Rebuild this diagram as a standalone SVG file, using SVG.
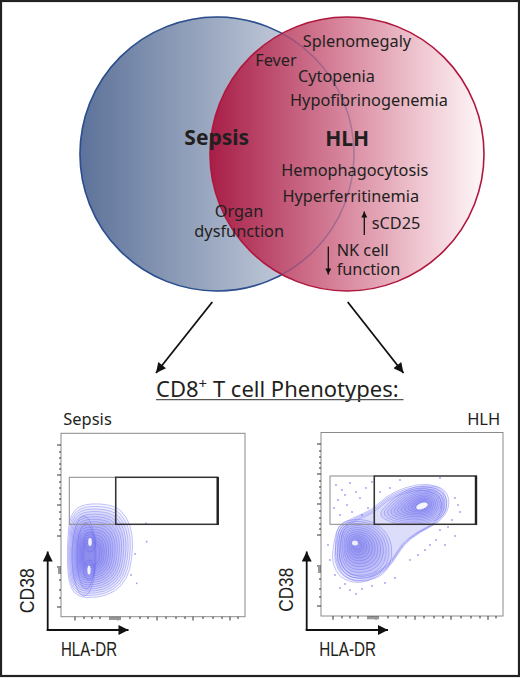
<svg xmlns="http://www.w3.org/2000/svg" xmlns:xlink="http://www.w3.org/1999/xlink" width="520" height="678" viewBox="0 0 520 678">
<style>
.t{font-family:"Noto Sans","Open Sans",sans-serif;font-size:16.3px;fill:#231f20}
.b{font-family:"Noto Sans","Open Sans",sans-serif;font-size:21px;font-weight:bold;fill:#231f20}
.ax{font-family:"Liberation Sans",Arial,sans-serif;font-size:19.5px;fill:#231f20}
.lab{font-family:"Noto Sans","Open Sans",sans-serif;font-size:16.5px;fill:#231f20}
.frame{fill:none;stroke:#8a8a8a;stroke-width:1}
.gl{fill:none;stroke:#8a8a8a;stroke-width:1}
.gr{fill:none;stroke:#333;stroke-width:1.5}
.tick{stroke:#333;stroke-width:1;fill:none}
.c{fill:#5858f0;fill-opacity:0.05;stroke:#6464f2;stroke-opacity:0.55;stroke-width:0.7}
.dot{fill:#7070f0;fill-opacity:0.7}
.arr{stroke:#111;stroke-width:1.8;fill:none}
</style>
<defs>
<linearGradient id="gb" x1="82" y1="0" x2="352" y2="0" gradientUnits="userSpaceOnUse">
<stop offset="0" stop-color="#5e739a"/>
<stop offset="0.55" stop-color="#a5b1c7"/>
<stop offset="1" stop-color="#e2e6ee"/>
</linearGradient>
<linearGradient id="gr" x1="212" y1="0" x2="482" y2="0" gradientUnits="userSpaceOnUse">
<stop offset="0" stop-color="#a9153f"/>
<stop offset="0.45" stop-color="#d27690"/>
<stop offset="0.8" stop-color="#f0c9d3"/>
<stop offset="1" stop-color="#fdf5f7"/>
</linearGradient>
<marker id="ah" viewBox="0 0 10 10" refX="10" refY="5" markerWidth="11" markerHeight="10" markerUnits="userSpaceOnUse" orient="auto">
<path d="M0,0 L10,5 L0,10 Z" fill="#111"/>
</marker>
<marker id="ahs" viewBox="0 0 10 10" refX="10" refY="5" markerWidth="7" markerHeight="6" markerUnits="userSpaceOnUse" orient="auto">
<path d="M0,0 L10,5 L0,10 Z" fill="#111"/>
</marker>
<path id="sb" d="M11,-51 Q26,-50 32,-44 Q38,-38 41,-29 Q44,-20 43.5,-7.5 Q43,5 40.5,14.5 Q38,24 32,30.5 Q26,37 17,40 Q8,43 -2,42.5 Q-12,42 -16.5,35 Q-21,28 -21.5,9 Q-22,-10 -20.5,-26 Q-19,-42 -11.5,-47 Q-4,-52 11,-51 Z" vector-effect="non-scaling-stroke"/>
<path id="la" d="M-20,-13.5 Q-18,-22 -9,-24.5 Q0,-27 10,-24.5 Q20,-22 26.5,-15 Q33,-8 34.5,2 Q36,12 32,20.5 Q28,29 19,33 Q10,37 0,36 Q-10,35 -15.5,27.5 Q-21,20 -21.5,7.5 Q-22,-5 -20,-13.5 Z" vector-effect="non-scaling-stroke"/>
<path id="lb" d="M-40,4 Q-35,-2 -26.5,-8.5 Q-18,-15 -9,-17.5 Q0,-20 9,-19 Q18,-18 21.5,-11.5 Q25,-5 23.5,2.5 Q22,10 15,14 Q8,18 -2,19 Q-12,20 -22,19 Q-32,18 -38.5,14 Q-45,10 -40,4 Z" vector-effect="non-scaling-stroke"/>
<path id="env" d="M-55,2.5 Q-53,-8 -45.5,-12.5 Q-38,-17 -28,-21 Q-18,-25 -11.5,-31.5 Q-5,-38 5,-43 Q15,-48 26.5,-50 Q38,-52 47.5,-48.5 Q57,-45 58.5,-36.5 Q60,-28 55,-20.5 Q50,-13 40,-8 Q30,-3 21.5,3.5 Q13,10 8,19 Q3,28 -4.5,35 Q-12,42 -22,45.5 Q-32,49 -41,46 Q-50,43 -54,35.5 Q-58,28 -57.5,20.5 Q-57,13 -55,2.5 Z" vector-effect="non-scaling-stroke"/>
</defs>

<rect x="1" y="1" width="518" height="675" fill="#fff" stroke="#222" stroke-width="2.2"/>

<g id="venn-sepsis">
<circle cx="217" cy="154" r="137" fill="url(#gb)" stroke="#2c4f8f" stroke-width="1.6"/>
</g>
<g id="venn-hlh">
<circle cx="347" cy="154" r="137" fill="url(#gr)" fill-opacity="0.93" stroke="#b0173d" stroke-width="1.6"/>
<circle cx="217" cy="154" r="137" fill="none" stroke="#2c4f8f" stroke-opacity="0.25" stroke-width="1.4"/>
</g>

<g id="venn-labels">
<text class="t" x="357" y="47" text-anchor="middle">Splenomegaly</text>
<text class="t" x="276" y="66" text-anchor="middle">Fever</text>
<text class="t" x="336.5" y="82" text-anchor="middle">Cytopenia</text>
<text class="t" x="369" y="105.5" text-anchor="middle">Hypofibrinogenemia</text>
<text class="b" x="216.7" y="145" text-anchor="middle">Sepsis</text>
<text class="b" x="347.2" y="146" text-anchor="middle">HLH</text>
<text class="t" x="354.7" y="176" text-anchor="middle">Hemophagocytosis</text>
<text class="t" x="350.8" y="201.5" text-anchor="middle">Hyperferritinemia</text>
<text class="t" text-anchor="middle"><tspan x="239" y="216.7">Organ</tspan><tspan x="239.2" y="237">dysfunction</tspan></text>
<text class="t" x="371.7" y="228.5">sCD25</text>
<text class="t"><tspan x="336.7" y="256">NK cell</tspan><tspan x="336.7" y="275">function</tspan></text>
<line x1="364.3" y1="235" x2="364.3" y2="211.5" stroke="#111" stroke-width="1.3" marker-end="url(#ahs)"/>
<line x1="328.3" y1="246.5" x2="328.3" y2="274.5" stroke="#111" stroke-width="1.3" marker-end="url(#ahs)"/>
</g>

<g id="connectors">
<line class="arr" x1="212.3" y1="302" x2="156" y2="373" marker-end="url(#ah)"/>
<line class="arr" x1="347.7" y1="302" x2="403.5" y2="373" marker-end="url(#ah)"/>
</g>

<g id="title">
<text font-family="Noto Sans, Open Sans, sans-serif" font-size="22px" fill="#231f20" x="156" y="396.5">CD8<tspan font-size="15px" dy="-8">+</tspan><tspan dy="8"> T cell Phenotypes:</tspan></text>
<line x1="156" y1="399.7" x2="403.5" y2="399.7" stroke="#555" stroke-width="1.3"/>
</g>

<g id="plot-sepsis">
<text class="lab" x="87.5" y="425" text-anchor="middle">Sepsis</text>
<rect class="frame" x="61" y="433.3" width="184" height="183.4"/>
<path class="tick" d="M57,445H61M57,475H61M57,505H61M57,536H61M57,567H61M57,607H61M59,452H61M59,458H61M59,464H61M59,469H61M59,482H61M59,488H61M59,494H61M59,499H61M59,512H61M59,519H61M59,525H61M59,530H61M58,569H61M58,571H61M58,573H61M59,580H61M59,590H61M59,598H61"/>
<path class="tick" d="M75,616.7V620.5M118,616.7V620.5M157,616.7V620.5M193,616.7V620.5M230,616.7V620.5M110,616.7V620M112,616.7V620M114,616.7V620M116,616.7V620M120,616.7V620M84,616.7V619M92,616.7V619M100,616.7V619M130,616.7V619M140,616.7V619M148,616.7V619M166,616.7V619M176,616.7V619M185,616.7V619M203,616.7V619M213,616.7V619M222,616.7V619M238,616.7V619"/>
<g transform="translate(89,555)">
<use href="#sb" class="c"/>
<use href="#sb" class="c" transform="scale(0.95)"/>
<use href="#sb" class="c" transform="scale(0.9)"/>
<use href="#sb" class="c" transform="scale(0.85)"/>
<use href="#sb" class="c" transform="scale(0.8)"/>
<use href="#sb" class="c" transform="scale(0.75)"/>
<use href="#sb" class="c" transform="scale(0.7)"/>
<use href="#sb" class="c" transform="scale(0.65)"/>
<use href="#sb" class="c" transform="scale(0.6)"/>
<use href="#sb" class="c" transform="scale(0.55)"/>
<use href="#sb" class="c" transform="scale(0.5)"/>
<use href="#sb" class="c" transform="scale(0.45)"/>
<use href="#sb" class="c" transform="scale(0.4)"/>
<use href="#sb" class="c" transform="scale(0.35)"/>
<use href="#sb" class="c" transform="scale(0.3)"/>
<use href="#sb" class="c" transform="scale(0.25)"/>
</g>
<ellipse cx="84" cy="556" rx="12" ry="40" class="c"/>
<ellipse cx="86" cy="556" rx="9" ry="33" class="c"/>
<ellipse cx="90" cy="542" rx="6" ry="10" class="c"/>
<ellipse cx="89" cy="570" rx="5.5" ry="10" class="c"/>
<ellipse cx="90" cy="542" rx="1.8" ry="4" fill="#fff" fill-opacity="0.9"/>
<ellipse cx="89" cy="570" rx="1.6" ry="4.5" fill="#fff" fill-opacity="0.9"/>
<circle class="dot" cx="146.7" cy="541.7" r="0.9"/>
<circle class="dot" cx="135" cy="554" r="0.9"/>
<circle class="dot" cx="136.7" cy="583.3" r="0.9"/>
<circle class="dot" cx="146" cy="523.3" r="0.9"/>
<circle class="dot" cx="131" cy="575" r="0.9"/>
<rect class="gl" x="69.3" y="477.3" width="46.4" height="47"/>
<rect class="gr" x="115.7" y="477.3" width="102" height="47"/>
<line x1="217.7" y1="477" x2="217.7" y2="525" stroke="#222" stroke-width="2.4"/>
<line class="arr" x1="47.7" y1="630" x2="47.7" y2="551.5" stroke-width="2" marker-end="url(#ah)"/>
<line class="arr" x1="46.7" y1="630" x2="128.5" y2="630" stroke-width="2" marker-end="url(#ah)"/>
<text class="ax" transform="translate(33.5,590.7) rotate(-90)" text-anchor="middle" textLength="45" lengthAdjust="spacingAndGlyphs">CD38</text>
<text class="ax" x="61" y="656" textLength="56" lengthAdjust="spacingAndGlyphs">HLA-DR</text>
</g>

<g id="plot-hlh">
<text class="lab" x="483.7" y="425" text-anchor="middle">HLH</text>
<rect class="frame" x="321" y="432.5" width="182" height="183.5"/>
<path class="tick" d="M317,444H321M317,474H321M317,504H321M317,535H321M317,566H321M317,606H321M319,451H321M319,457H321M319,463H321M319,468H321M319,481H321M319,487H321M319,493H321M319,498H321M319,511H321M319,518H321M319,524H321M319,529H321M318,568H321M318,570H321M318,572H321M319,579H321M319,589H321M319,597H321"/>
<path class="tick" d="M333,616V619.8M376,616V619.8M415,616V619.8M451,616V619.8M488,616V619.8M368,616V619.3M370,616V619.3M372,616V619.3M374,616V619.3M378,616V619.3M342,616V618.5M350,616V618.5M358,616V618.5M388,616V618.5M398,616V618.5M406,616V618.5M424,616V618.5M434,616V618.5M443,616V618.5M461,616V618.5M471,616V618.5M480,616V618.5M496,616V618.5"/>
<g transform="translate(390,535)">
<use href="#env" class="c"/>
<use href="#env" class="c" transform="scale(0.96)"/>
<use href="#env" class="c" transform="scale(0.92)"/>
<use href="#env" class="c" transform="scale(0.88)"/>
</g>
<g transform="translate(357,545)">
<use href="#la" class="c"/>
<use href="#la" class="c" transform="scale(0.92)"/>
<use href="#la" class="c" transform="scale(0.84)"/>
<use href="#la" class="c" transform="scale(0.76)"/>
<use href="#la" class="c" transform="scale(0.68)"/>
<use href="#la" class="c" transform="scale(0.6)"/>
<use href="#la" class="c" transform="scale(0.52)"/>
<use href="#la" class="c" transform="scale(0.44)"/>
<use href="#la" class="c" transform="scale(0.36)"/>
<use href="#la" class="c" transform="scale(0.28)"/>
<use href="#la" class="c" transform="scale(0.2)"/>
<use href="#la" class="c" transform="scale(0.13)"/>
</g>
<ellipse cx="355" cy="543" rx="3" ry="2.5" fill="#fff" fill-opacity="0.85"/>
<g transform="translate(423,505)">
<use href="#lb" class="c"/>
<use href="#lb" class="c" transform="scale(0.92)"/>
<use href="#lb" class="c" transform="scale(0.84)"/>
<use href="#lb" class="c" transform="scale(0.76)"/>
<use href="#lb" class="c" transform="scale(0.68)"/>
<use href="#lb" class="c" transform="scale(0.6)"/>
<use href="#lb" class="c" transform="scale(0.52)"/>
<use href="#lb" class="c" transform="scale(0.44)"/>
<use href="#lb" class="c" transform="scale(0.36)"/>
<use href="#lb" class="c" transform="scale(0.28)"/>
<use href="#lb" class="c" transform="scale(0.2)"/>
</g>
<ellipse cx="422" cy="506" rx="6" ry="3" transform="rotate(-20 422 506)" fill="#fff" fill-opacity="0.9"/>
<g class="dot">
<circle cx="336" cy="485" r="0.9"/><circle cx="342" cy="490" r="0.9"/><circle cx="350" cy="483" r="0.9"/><circle cx="356" cy="492" r="0.9"/><circle cx="338" cy="500" r="0.9"/><circle cx="347" cy="505" r="0.9"/><circle cx="360" cy="498" r="0.9"/><circle cx="366" cy="488" r="0.9"/><circle cx="352" cy="512" r="0.9"/><circle cx="340" cy="515" r="0.9"/><circle cx="368" cy="508" r="0.9"/><circle cx="345" cy="495" r="0.9"/><circle cx="334" cy="508" r="0.9"/><circle cx="372" cy="482" r="0.9"/><circle cx="362" cy="515" r="0.9"/>
<circle cx="340" cy="588" r="0.9"/><circle cx="350" cy="590" r="0.9"/><circle cx="362" cy="589" r="0.9"/><circle cx="372" cy="586" r="0.9"/><circle cx="385" cy="583" r="0.9"/><circle cx="395" cy="578" r="0.9"/><circle cx="345" cy="584" r="0.9"/><circle cx="356" cy="594" r="0.9"/>
<circle cx="440" cy="530" r="0.9"/><circle cx="448" cy="527" r="0.9"/><circle cx="455" cy="536" r="0.9"/><circle cx="436" cy="540" r="0.9"/><circle cx="445" cy="545" r="0.9"/><circle cx="452" cy="520" r="0.9"/><circle cx="430" cy="545" r="0.9"/><circle cx="460" cy="512" r="0.9"/><circle cx="425" cy="550" r="0.9"/><circle cx="418" cy="555" r="0.9"/><circle cx="410" cy="560" r="0.9"/>
<circle cx="400" cy="480" r="0.9"/><circle cx="390" cy="488" r="0.9"/><circle cx="380" cy="492" r="0.9"/><circle cx="440" cy="478" r="0.9"/><circle cx="455" cy="498" r="0.9"/><circle cx="458" cy="505" r="0.9"/>
<circle cx="330" cy="560" r="0.9"/><circle cx="328" cy="545" r="0.9"/><circle cx="335" cy="575" r="0.9"/>
</g>
<rect class="gl" x="330" y="476" width="44.3" height="48.3"/>
<rect class="gr" x="374.3" y="476" width="101.7" height="48.3"/>
<line x1="476" y1="475.7" x2="476" y2="524.8" stroke="#222" stroke-width="2.4"/>
<line class="arr" x1="306.7" y1="630" x2="306.7" y2="551.5" stroke-width="2" marker-end="url(#ah)"/>
<line class="arr" x1="305.7" y1="630" x2="388" y2="630" stroke-width="2" marker-end="url(#ah)"/>
<text class="ax" transform="translate(293.3,589.8) rotate(-90)" text-anchor="middle" textLength="44" lengthAdjust="spacingAndGlyphs">CD38</text>
<text class="ax" x="319.3" y="656" textLength="56.7" lengthAdjust="spacingAndGlyphs">HLA-DR</text>
</g>
</svg>
